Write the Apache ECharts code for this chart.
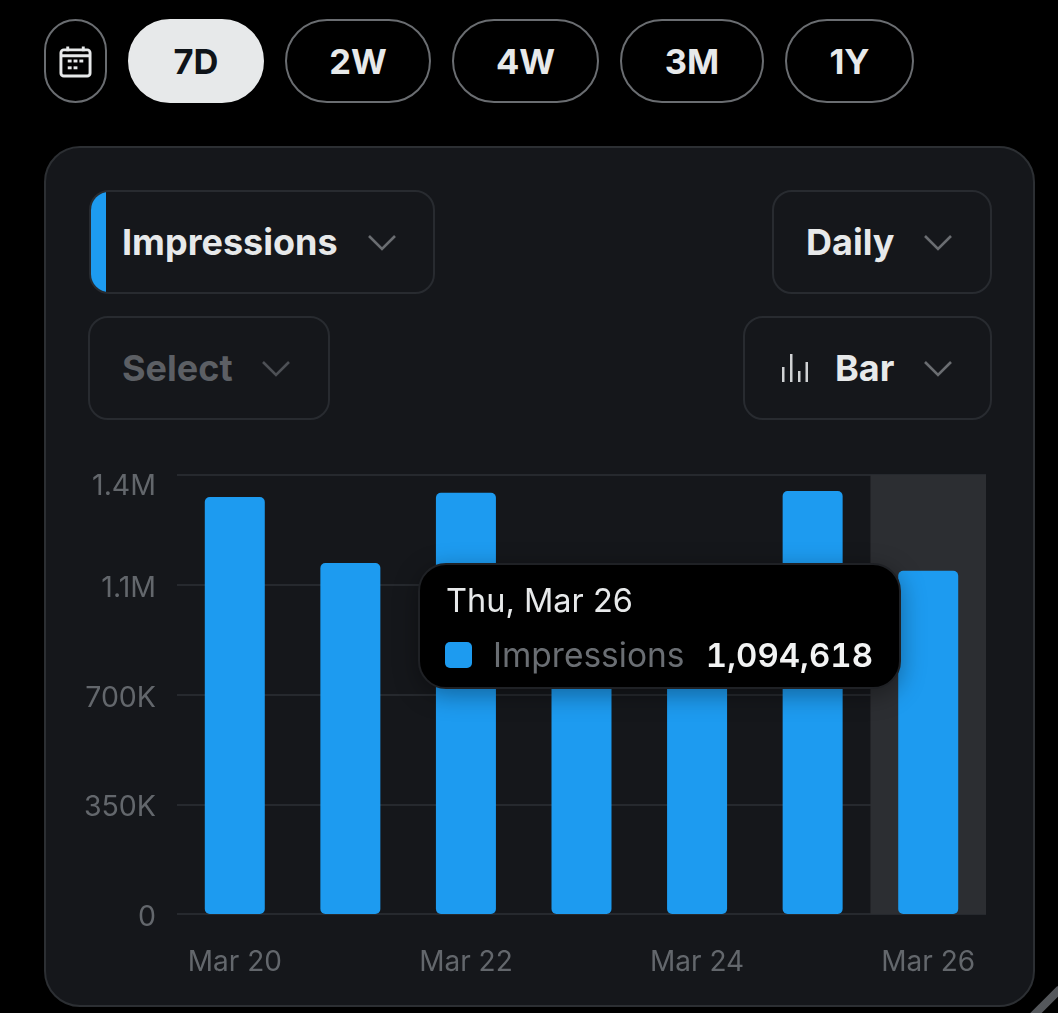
<!DOCTYPE html>
<html>
<head>
<meta charset="utf-8">
<title>Impressions</title>
<script src="https://cdn.jsdelivr.net/npm/echarts@6/dist/echarts.min.js"></script>
<style>
    html, body { margin: 0; padding: 0; background: #000; width: 1058px; height: 1013px; overflow: hidden; font-family: Inter, "Noto Sans", sans-serif; }
    .abs { position: absolute; box-sizing: border-box; }
    .pill { top: 19px; height: 84px; border: 2px solid #6a6d71; border-radius: 42px; color: #e7e9ea; font-size: 34.5px; font-weight: 700; display: flex; align-items: center; justify-content: center; }
    .pill.active { background: #e7e9ea; border-color: #e7e9ea; color: #0f1419; }
    #card { left: 44px; top: 146px; width: 991px; height: 861px; background: #15171b; border: 2px solid #2c2f33; border-radius: 36px; }
    .drop { height: 104px; border: 2px solid #282b30; border-radius: 20px; overflow: hidden; }
    .drop-text { position: absolute; font-size: 36px; font-weight: 700; color: #e7e9ea; line-height: 40px; white-space: nowrap; }
    .chev { position: absolute; width: 30px; height: 18px; }
    #chart { position: absolute; left: 0; top: 0; width: 1058px; height: 1013px; }
    #corner { left: 1026px; top: 999px; width: 40px; height: 8px; background: #55585c; transform: rotate(-45deg); }
</style>
</head>
<body>
<div class="abs pill" style="left:44px;width:63px;">
    <svg width="33" height="33" viewBox="0 0 34 34" fill="none" stroke="#e7e9ea" stroke-width="3">
        <rect x="2" y="5" width="30" height="27" rx="3"/>
        <path d="M2 11h30M9 1.5v5M25 1.5v5"/>
        <g stroke="none" fill="#e7e9ea">
            <rect x="9" y="15" width="4" height="3"/><rect x="15" y="15" width="4" height="3"/><rect x="21" y="15" width="4" height="3"/>
            <rect x="9" y="22" width="4" height="3"/><rect x="15" y="22" width="4" height="3"/>
        </g>
    </svg>
</div>
<div class="abs pill active" style="left:128px;width:136px;">7D</div>
<div class="abs pill" style="left:285px;width:146px;">2W</div>
<div class="abs pill" style="left:452px;width:147px;">4W</div>
<div class="abs pill" style="left:620px;width:144px;">3M</div>
<div class="abs pill" style="left:785px;width:129px;">1Y</div>

<div class="abs" id="card"></div>

<div class="abs drop" style="left:89px;top:190px;width:346px;">
    <div class="abs" style="left:-2px;top:-2px;width:17px;height:104px;background:#1d9bf0;"></div>
</div>
<div class="drop-text" style="left:122px;top:222px;">Impressions</div>
<svg class="chev" style="left:367px;top:234px;" viewBox="0 0 30 18" fill="none" stroke="#6a6d71" stroke-width="2.6"><path d="M2 2l13 13L28 2"/></svg>

<div class="abs drop" style="left:772px;top:190px;width:220px;"></div>
<div class="drop-text" style="left:806px;top:222px;">Daily</div>
<svg class="chev" style="left:923px;top:234px;" viewBox="0 0 30 18" fill="none" stroke="#6a6d71" stroke-width="2.6"><path d="M2 2l13 13L28 2"/></svg>

<div class="abs drop" style="left:88px;top:316px;width:242px;"></div>
<div class="drop-text" style="left:122px;top:348px;color:#5c5f64;">Select</div>
<svg class="chev" style="left:261px;top:360px;" viewBox="0 0 30 18" fill="none" stroke="#4d5055" stroke-width="2.6"><path d="M2 2l13 13L28 2"/></svg>

<div class="abs drop" style="left:743px;top:316px;width:249px;"></div>
<svg class="abs" style="left:782px;top:354px;" width="26" height="28" viewBox="0 0 26 28" fill="#d0d2d4">
    <rect x="0" y="13" width="2.5" height="15"/><rect x="8" y="0" width="2.5" height="28"/>
    <rect x="16" y="17" width="2.5" height="11"/><rect x="23.5" y="8" width="2.5" height="20"/>
</svg>
<div class="drop-text" style="left:835px;top:348px;">Bar</div>
<svg class="chev" style="left:923px;top:360px;" viewBox="0 0 30 18" fill="none" stroke="#6a6d71" stroke-width="2.6"><path d="M2 2l13 13L28 2"/></svg>

<div class="abs" id="corner"></div>
<div id="chart"></div>

<script>
    var categories = ['Mar 20', 'Mar 21', 'Mar 22', 'Mar 23', 'Mar 24', 'Mar 25', 'Mar 26'];
    var weekdays = ['Fri', 'Sat', 'Sun', 'Mon', 'Tue', 'Wed', 'Thu'];
    var impressions = [1330000, 1119000, 1343000, 950000, 900000, 1349000, 1094618];
    var tickLabels = ['0', '350K', '700K', '1.1M', '1.4M'];
    var tickStep = 350000;
    var selectedIndex = 6;
    var seriesName = 'Impressions';

    var chart = echarts.init(document.getElementById('chart'));
    var fontStack = 'Inter, "Noto Sans", sans-serif';

    chart.setOption({
        animation: false,
        backgroundColor: 'transparent',
        grid: { left: 177, right: 72, top: 475, bottom: 99 },
        tooltip: {
            trigger: 'axis',
            alwaysShowContent: true,
            transitionDuration: 0,
            backgroundColor: '#000000',
            borderColor: '#1f2125',
            borderWidth: 2,
            borderRadius: 28,
            padding: 0,
            position: [418, 563],
            extraCssText: 'box-shadow:0 6px 24px rgba(0,0,0,.35);box-sizing:border-box;width:483px;height:126px;',
            // 默认 z 是 50，会盖住柱子
            axisPointer: { type: 'shadow', z: 1, shadowStyle: { color: '#2c2e32', opacity: 1 } },
            formatter: function (params) {
                var p = params[0];
                return '<div style="font-family:' + fontStack.replace(/"/g, "'") + ';position:relative;width:479px;height:122px;">' +
                    '<div style="position:absolute;left:26px;top:16px;font-size:32.5px;line-height:40px;color:#e7e9ea;">' +
                    weekdays[p.dataIndex] + ', ' + p.name + '</div>' +
                    '<div style="position:absolute;left:25px;top:77px;width:27px;height:26px;border-radius:5px;background:#1d9bf0;"></div>' +
                    '<div style="position:absolute;left:73px;top:70px;font-size:33.5px;line-height:40px;color:#6a6e73;">' + seriesName + '</div>' +
                    '<div style="position:absolute;right:26px;top:70px;font-size:33px;line-height:40px;font-weight:600;font-variant-numeric:tabular-nums;color:#f2f3f3;">' +
                    p.value.toLocaleString('en-US') + '</div></div>';
            }
        },
        xAxis: {
            type: 'category',
            data: categories,
            axisLine: { show: false },
            axisTick: { show: false },
            axisLabel: { interval: 1, margin: 35, fontSize: 28, color: '#63676c', fontFamily: fontStack }
        },
        yAxis: {
            type: 'value',
            min: 0,
            max: tickStep * (tickLabels.length - 1),
            interval: tickStep,
            axisLine: { show: false },
            axisTick: { show: false },
            splitLine: { lineStyle: { color: '#26292e', width: 2 } },
            axisLabel: {
                margin: 21,
                fontSize: 28.5,
                color: '#63676c',
                fontFamily: fontStack,
                padding: [7, 0, 0, 0],
                rich: {
                    // 顶部标签压在网格线下方
                    top: { fontSize: 28.5, color: '#63676c', fontFamily: fontStack, padding: [15, 0, 0, 0] }
                },
                formatter: function (value) {
                    var idx = Math.round(value / tickStep);
                    return idx === tickLabels.length - 1 ? '{top|' + tickLabels[idx] + '}' : tickLabels[idx];
                }
            }
        },
        series: [{
            name: seriesName,
            type: 'bar',
            data: impressions,
            barWidth: 60,
            emphasis: { disabled: true },
            itemStyle: { color: '#1d9bf0', borderRadius: 5 }
        }]
    });

    chart.dispatchAction({ type: 'showTip', seriesIndex: 0, dataIndex: selectedIndex });
</script>
</body>
</html>
